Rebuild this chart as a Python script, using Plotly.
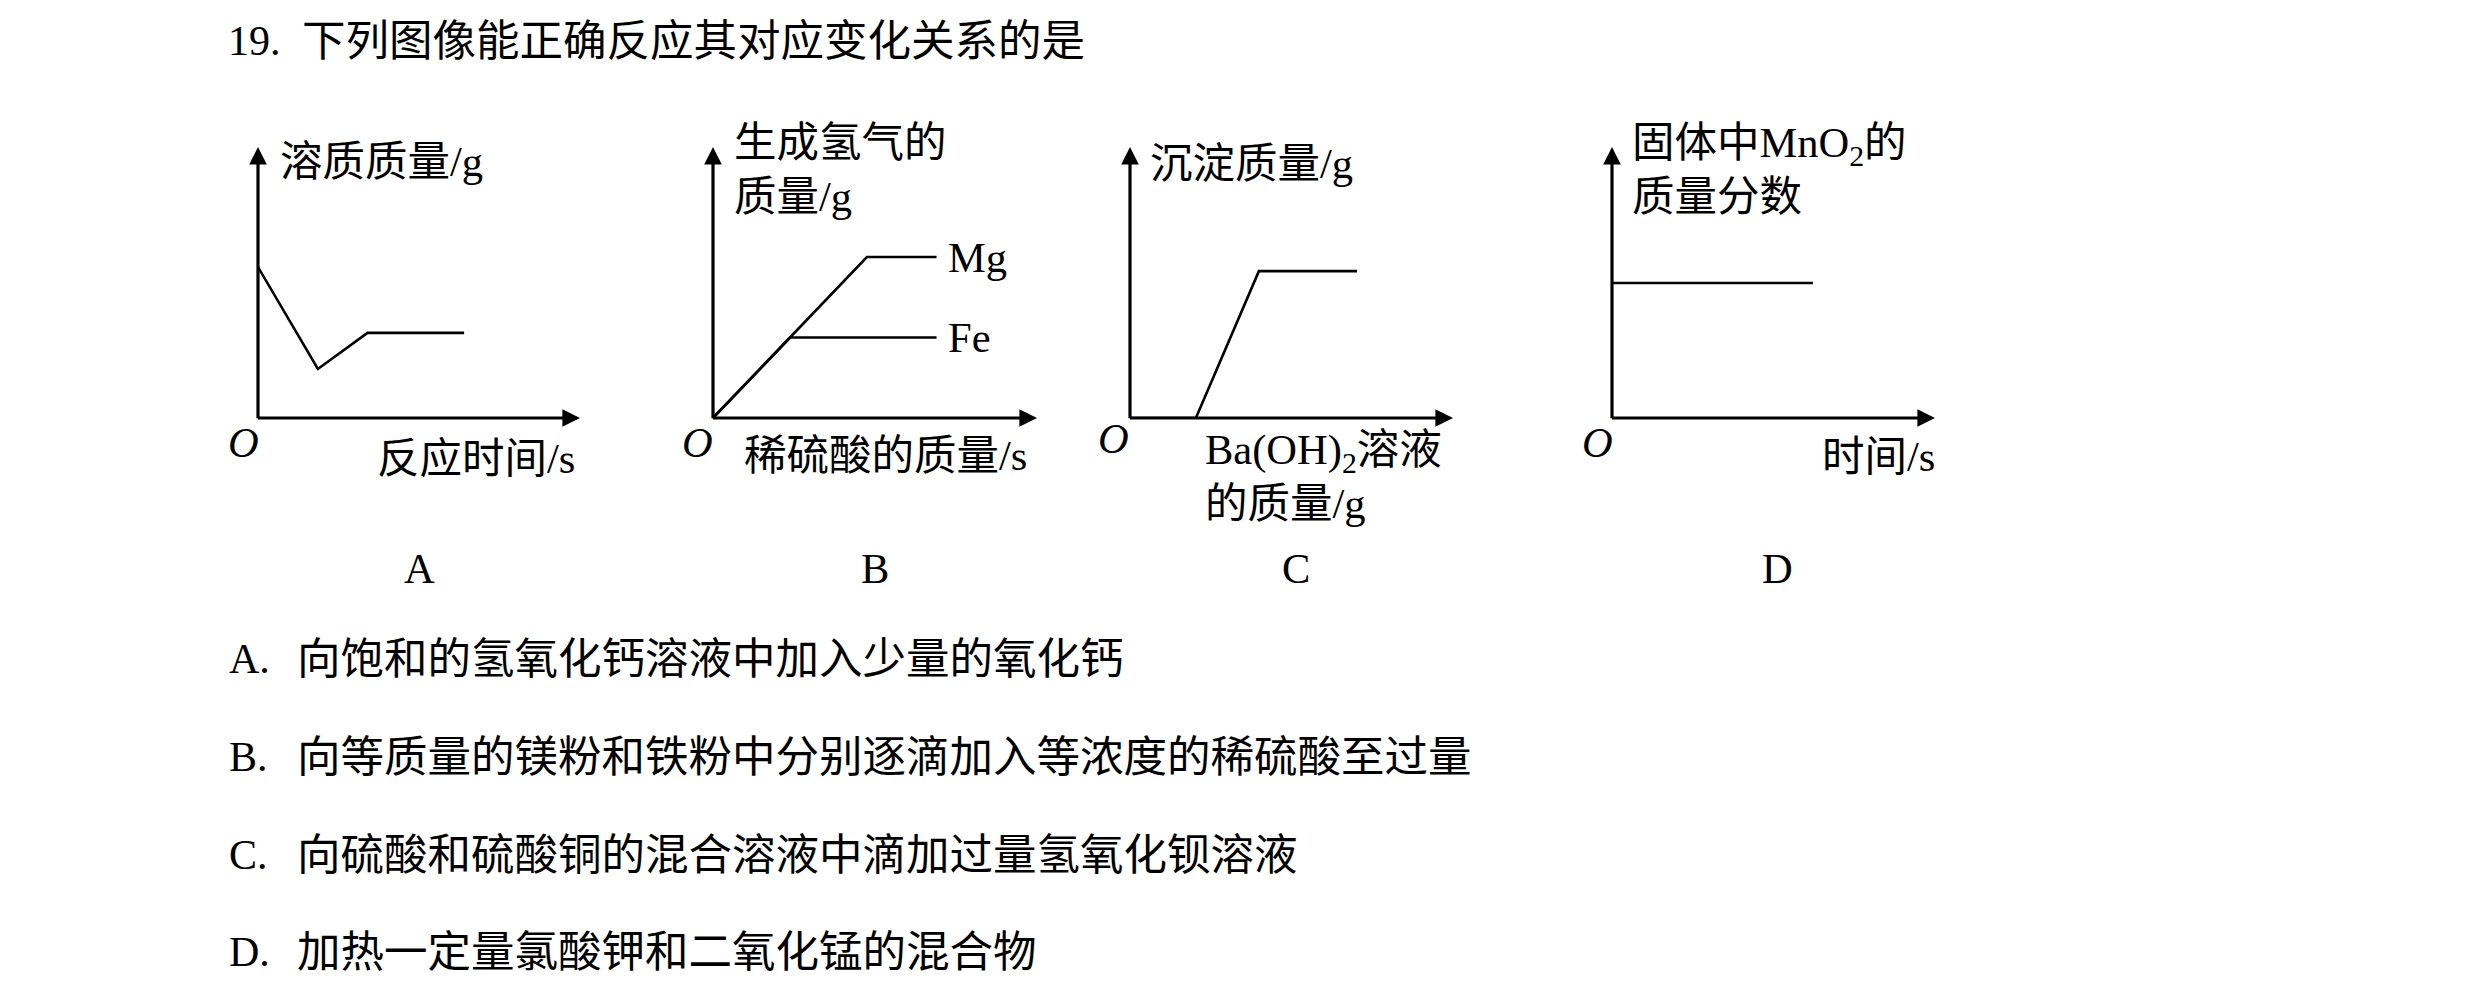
import plotly.graph_objects as go

# ---------------- data (schematic units, axes range 0..10) ----------------
a_x = [0, 1.86, 3.4, 6.4]
a_y = [5.57, 1.81, 3.14, 3.14]

mg_x = [0, 4.75, 6.9]
mg_y = [0, 5.94, 5.94]
fe_x = [0, 2.38, 6.9]
fe_y = [0, 2.97, 2.97]

c_x = [0, 2.04, 3.99, 7.03]
c_y = [0, 0, 5.42, 5.42]

d_x = [0, 6.22]
d_y = [4.98, 4.98]

panel_letters = ["A", "B", "C", "D"]
question_no = "19."
question = "下列图像能正确反应其对应变化关系的是"
option_letters = ["A.", "B.", "C.", "D."]
options = [
    "向饱和的氢氧化钙溶液中加入少量的氧化钙",
    "向等质量的镁粉和铁粉中分别逐滴加入等浓度的稀硫酸至过量",
    "向硫酸和硫酸铜的混合溶液中滴加过量氢氧化钡溶液",
    "加热一定量氯酸钾和二氧化锰的混合物",
]

# ---------------- layout helpers ----------------
W, H = 2480, 991
OFF = 8  # default page margin of the html body
FONT = "Liberation Serif, Noto Sans CJK SC, serif"
FS = 42.5
FSQ = 43.5


def px(x):
    return (x - OFF) / W


def py(y):
    return 1 - (y - OFF) / H


panels = [(258, 580), (713, 1037), (1130, 1453), (1612, 1935)]
Y0, Y1 = 418, 147

fig = go.Figure()
layout = dict(
    width=W, height=H,
    margin=dict(l=0, r=0, t=0, b=0),
    paper_bgcolor="white", plot_bgcolor="rgba(0,0,0,0)",
    showlegend=False,
    font=dict(family=FONT, size=FS, color="black"),
)
annotations = []


def axname(i):
    return ("x", "y") if i == 0 else (f"x{i+1}", f"y{i+1}")


for i, (x0, x1) in enumerate(panels):
    k = "" if i == 0 else str(i + 1)
    xr, yr = axname(i)
    layout["xaxis" + k] = dict(domain=[px(x0), px(x1)], range=[0, 10], visible=False,
                               fixedrange=True, anchor=yr)
    layout["yaxis" + k] = dict(domain=[py(Y0), py(Y1)], range=[0, 10], visible=False,
                               fixedrange=True, anchor=xr)
    # axis arrows
    for (hx, hy, tx, ty) in [(10, 0, -0.05, 0), (0, 10, 0, -0.06)]:
        annotations.append(dict(
            x=hx, y=hy, ax=tx, ay=ty, xref=xr, yref=yr, axref=xr, ayref=yr,
            text="", showarrow=True, arrowhead=2, arrowsize=1.1, arrowwidth=3.2,
            arrowcolor="black", standoff=0, startstandoff=0))

LINE = dict(color="black", width=2.6)
series = [(a_x, a_y, 0), (mg_x, mg_y, 1), (fe_x, fe_y, 1), (c_x, c_y, 2), (d_x, d_y, 3)]
for xs, ys, i in series:
    xr, yr = axname(i)
    fig.add_trace(go.Scatter(x=xs, y=ys, mode="lines", line=LINE, xaxis=xr, yaxis=yr,
                             hoverinfo="skip"))

# Mg / Fe labels attached to data
annotations.append(dict(x=7.2, y=mg_y[-1], xref="x2", yref="y2", text="Mg", showarrow=False,
                        xanchor="left", yanchor="middle", font=dict(family=FONT, size=FS)))
annotations.append(dict(x=7.2, y=fe_y[-1], xref="x2", yref="y2", text="Fe", showarrow=False,
                        xanchor="left", yanchor="middle", font=dict(family=FONT, size=FS)))


def txt(x, y, s, anchor="left", size=FS, italic=False):
    annotations.append(dict(
        x=px(x), y=py(y), xref="paper", yref="paper", text=s, showarrow=False,
        xanchor=anchor, yanchor="middle",
        font=dict(family=FONT, size=size, color="black",
                  style="italic" if italic else "normal")))


# axis titles
txt(278, 162, "溶质质量/g")
txt(375, 458, "反应时间/s")
txt(732, 142, "生成氢气的")
txt(732, 197, "质量/g")
txt(742, 455, "稀硫酸的质量/s")
txt(1148, 164, "沉淀质量/g")
txt(1203, 453, "Ba(OH)<sub>2</sub>溶液")
txt(1203, 503, "的质量/g")
txt(1630, 145, "固体中MnO<sub>2</sub>的")
txt(1630, 197, "质量分数")
txt(1820, 457, "时间/s")

# origin labels
for ox, oy in [(243, 442), (698, 442), (1113, 438), (1597, 442)]:
    txt(ox, oy, "O", anchor="center", italic=True)

# panel letters
for lx, lab in zip([419, 875, 1296, 1777], panel_letters):
    txt(lx, 568, lab, anchor="center")

# question and options
txt(226, 41, question_no, size=42)
txt(300, 41, question, size=FSQ)
for yy, lab, s in zip([659, 757, 855, 952], option_letters, options):
    txt(227, yy, lab, size=42)
    txt(295, yy, s, size=FSQ)

layout["annotations"] = annotations
fig.update_layout(**layout)
fig.write_html("out.html")
